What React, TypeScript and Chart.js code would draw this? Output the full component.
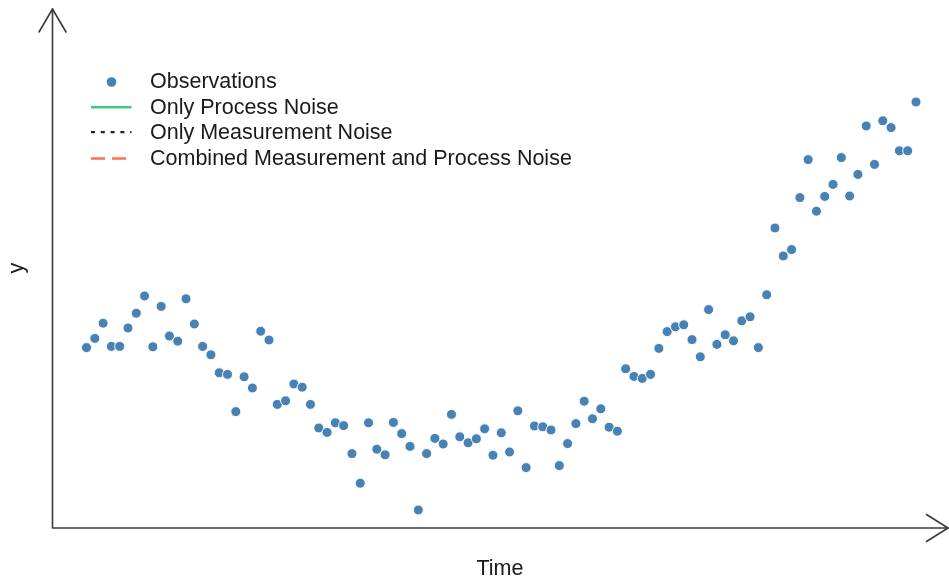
import React, { useEffect, useRef } from "react";
import { Chart, registerables } from "chart.js";

Chart.register(...registerables);

// Time index of each observation
const timeSteps: number[] = Array.from({ length: 101 }, (_, i) => i);

// Observed values
const observations: number[] = [
  4.51, 4.74, 5.12, 4.54, 4.54, 5.0, 5.37, 5.8, 4.53, 5.54,
  4.8, 4.67, 5.73, 5.1, 4.54, 4.33, 3.88, 3.84, 2.91, 3.78,
  3.5, 4.92, 4.7, 3.09, 3.18, 3.6, 3.52, 3.09, 2.5, 2.39,
  2.63, 2.56, 1.86, 1.12, 2.63, 1.97, 1.83, 2.64, 2.36, 2.04,
  0.45, 1.86, 2.24, 2.1, 2.84, 2.28, 2.13, 2.23, 2.48, 1.82,
  2.38, 1.9, 2.93, 1.51, 2.55, 2.53, 2.45, 1.56, 2.11, 2.61,
  3.17, 2.73, 2.98, 2.52, 2.42, 3.98, 3.79, 3.74, 3.84, 4.49,
  4.91, 5.03, 5.08, 4.71, 4.28, 5.46, 4.59, 4.83, 4.68, 5.18,
  5.28, 4.51, 5.83, 7.5, 6.8, 6.96, 8.26, 9.21, 7.92, 8.29,
  8.59, 9.26, 8.3, 8.84, 10.05, 9.09, 10.18, 10.01, 9.43, 9.43,
  10.65,
];

// Legend entries
const legendLabels: string[] = [
  "Observations",
  "Only Process Noise",
  "Only Measurement Noise",
  "Combined Measurement and Process Noise",
];

const axisTitles = { x: "Time", y: "y" };

const FONT = '21.5px "Liberation Sans", Arial, sans-serif';
const TEXT = "#1a1a1a";

// Arrow-headed axes, axis titles and the legend box
const decorPlugin = {
  id: "decor",
  afterDraw(chart: any) {
    const { ctx, chartArea } = chart;
    const { left, right, top, bottom } = chartArea;
    ctx.save();

    // axes
    ctx.strokeStyle = "#3a3a3a";
    ctx.lineWidth = 1.6;
    ctx.lineCap = "round";
    ctx.lineJoin = "round";
    ctx.beginPath();
    ctx.moveTo(left, top);
    ctx.lineTo(left, bottom);
    ctx.lineTo(right, bottom);
    ctx.stroke();
    // arrow heads
    ctx.beginPath();
    ctx.moveTo(left - 13.5, top + 23);
    ctx.lineTo(left, top);
    ctx.lineTo(left + 13.5, top + 23);
    ctx.moveTo(right - 21.5, bottom - 13.5);
    ctx.lineTo(right, bottom);
    ctx.lineTo(right - 21.5, bottom + 13.5);
    ctx.stroke();

    // axis titles
    ctx.fillStyle = TEXT;
    ctx.font = FONT;
    ctx.textAlign = "center";
    ctx.textBaseline = "alphabetic";
    ctx.fillText(axisTitles.x, 500, 575);
    ctx.save();
    ctx.translate(22.5, 268);
    ctx.rotate(-Math.PI / 2);
    ctx.fillText(axisTitles.y, 0, 0);
    ctx.restore();

    // legend
    const rows = [82, 107.7, 133.2, 159];
    const sx0 = 91;
    const sx1 = 131.5;
    ctx.textAlign = "left";
    ctx.textBaseline = "middle";
    legendLabels.forEach((label, i) => {
      ctx.fillStyle = TEXT;
      ctx.fillText(label, 150, rows[i]);
    });
    // observation marker
    ctx.fillStyle = "#4682b4";
    ctx.beginPath();
    ctx.arc(111.5, rows[0], 4.8, 0, Math.PI * 2);
    ctx.fill();
    ctx.lineCap = "butt";
    // process noise
    ctx.strokeStyle = "#40c97a";
    ctx.lineWidth = 2.6;
    ctx.setLineDash([]);
    ctx.beginPath();
    ctx.moveTo(sx0, rows[1] - 0.5);
    ctx.lineTo(sx1, rows[1] - 0.5);
    ctx.stroke();
    // measurement noise
    ctx.strokeStyle = "#222222";
    ctx.lineWidth = 2.2;
    ctx.setLineDash([4, 5.8]);
    ctx.beginPath();
    ctx.moveTo(sx0, rows[2] - 1);
    ctx.lineTo(sx1, rows[2] - 1);
    ctx.stroke();
    // combined noise
    ctx.strokeStyle = "#f8735a";
    ctx.lineWidth = 2.6;
    ctx.setLineDash([14, 7]);
    ctx.beginPath();
    ctx.moveTo(sx0, rows[3] - 0.5);
    ctx.lineTo(sx1, rows[3] - 0.5);
    ctx.stroke();
    ctx.setLineDash([]);

    ctx.restore();
  },
};

export default function App() {
  const canvasRef = useRef<HTMLCanvasElement | null>(null);

  useEffect(() => {
    if (!canvasRef.current) return;
    const chart = new Chart(canvasRef.current, {
      type: "scatter",
      data: {
        datasets: [
          {
            label: legendLabels[0],
            data: timeSteps.map((t, i) => ({ x: t, y: observations[i] })),
            backgroundColor: "#4682b4",
            borderColor: "rgba(255,255,255,0.95)",
            borderWidth: 1,
            pointRadius: 5,
            pointHoverRadius: 5,
          },
        ],
      },
      options: {
        animation: false,
        responsive: false,
        devicePixelRatio: 1,
        layout: {
          autoPadding: false,
          padding: { left: 52.5, top: 9, right: 1, bottom: 50 },
        },
        plugins: { legend: { display: false }, tooltip: { enabled: false } },
        scales: {
          x: { type: "linear", min: -4.1, max: 103.86, display: false },
          y: { type: "linear", min: 0, max: 12.975, display: false },
        },
      },
      plugins: [decorPlugin],
    });
    return () => chart.destroy();
  }, []);

  return (
    <div style={{ position: "fixed", left: 0, top: 0, width: 949, height: 578, background: "#fff" }}>
      <canvas ref={canvasRef} width={949} height={578} />
    </div>
  );
}
